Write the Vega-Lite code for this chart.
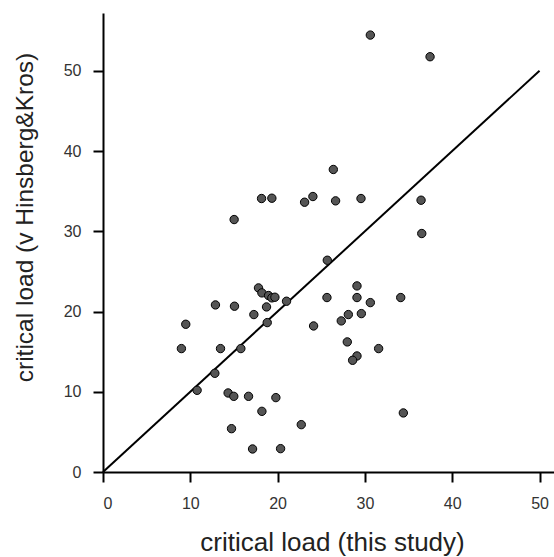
{
  "$schema": "https://vega.github.io/schema/vega-lite/v6.json",
  "width": 454,
  "height": 459,
  "autosize": {"type": "none"},
  "padding": {"left": 103, "top": 13, "right": 0, "bottom": 85},
  "background": "white",
  "config": {
    "view": {"stroke": null},
    "axis": {
      "grid": false,
      "domainColor": "black",
      "domainWidth": 2,
      "tickColor": "black",
      "tickWidth": 2,
      "tickSize": 10,
      "labelFont": "Liberation Sans",
      "labelFontSize": 16,
      "labelColor": "#333333",
      "titleFont": "Liberation Sans",
      "titleFontWeight": "normal",
      "titleColor": "#222222"
    }
  },
  "datasets": {
    "points": [
      {"x": 30.62, "y": 54.45}, {"x": 37.46, "y": 51.75}, {"x": 26.38, "y": 37.70},
      {"x": 18.16, "y": 34.08}, {"x": 19.34, "y": 34.12}, {"x": 23.09, "y": 33.62},
      {"x": 24.04, "y": 34.33}, {"x": 26.64, "y": 33.79}, {"x": 29.55, "y": 34.08},
      {"x": 36.43, "y": 33.87}, {"x": 15.02, "y": 31.46}, {"x": 36.51, "y": 29.72},
      {"x": 25.69, "y": 26.39}, {"x": 17.81, "y": 22.94}, {"x": 18.20, "y": 22.32},
      {"x": 18.96, "y": 21.99}, {"x": 19.34, "y": 21.70}, {"x": 19.69, "y": 21.78},
      {"x": 21.02, "y": 21.28}, {"x": 12.88, "y": 20.82}, {"x": 15.06, "y": 20.66},
      {"x": 18.73, "y": 20.57}, {"x": 17.28, "y": 19.62}, {"x": 18.81, "y": 18.62},
      {"x": 25.65, "y": 21.74}, {"x": 29.09, "y": 23.19}, {"x": 29.09, "y": 21.74},
      {"x": 30.62, "y": 21.11}, {"x": 34.10, "y": 21.74}, {"x": 28.10, "y": 19.62},
      {"x": 29.59, "y": 19.74}, {"x": 27.29, "y": 18.83}, {"x": 24.12, "y": 18.20},
      {"x": 9.48, "y": 18.41}, {"x": 8.98, "y": 15.38}, {"x": 13.46, "y": 15.38},
      {"x": 15.79, "y": 15.38}, {"x": 27.98, "y": 16.21}, {"x": 31.57, "y": 15.38},
      {"x": 29.09, "y": 14.46}, {"x": 28.59, "y": 13.92}, {"x": 12.81, "y": 12.30},
      {"x": 10.78, "y": 10.18}, {"x": 14.33, "y": 9.85}, {"x": 14.98, "y": 9.43},
      {"x": 16.67, "y": 9.43}, {"x": 19.80, "y": 9.27}, {"x": 18.20, "y": 7.56},
      {"x": 34.40, "y": 7.36}, {"x": 22.71, "y": 5.90}, {"x": 14.72, "y": 5.40},
      {"x": 17.13, "y": 2.87}, {"x": 20.34, "y": 2.91}
    ],
    "line": [{"x": 0, "y": 0}, {"x": 50, "y": 50}]
  },
  "layer": [
    {
      "data": {"name": "line"},
      "mark": {"type": "line", "color": "black", "strokeWidth": 2, "clip": false},
      "encoding": {
        "x": {"field": "x", "type": "quantitative", "scale": {"domain": [0, 52], "nice": false, "zero": true},
              "axis": {"values": [0, 10, 20, 30, 40, 50], "labelPadding": 13, "title": "critical load (this study)", "titleFontSize": 26, "titleBaseline": "alphabetic", "titleY": 78, "titleX": 229}},
        "y": {"field": "y", "type": "quantitative", "scale": {"domain": [0, 57.2], "nice": false, "zero": true},
              "axis": {"values": [0, 10, 20, 30, 40, 50], "labelPadding": 12, "title": "critical load (v Hinsberg&Kros)", "titleFontSize": 24.5, "titleY": 204, "titleX": -66}}
      }
    },
    {
      "data": {"name": "points"},
      "mark": {"type": "point", "filled": true, "fill": "#555555", "stroke": "black", "strokeWidth": 1, "size": 70, "opacity": 1, "strokeOpacity": 1, "fillOpacity": 1},
      "encoding": {
        "x": {"field": "x", "type": "quantitative"},
        "y": {"field": "y", "type": "quantitative"}
      }
    }
  ]
}
